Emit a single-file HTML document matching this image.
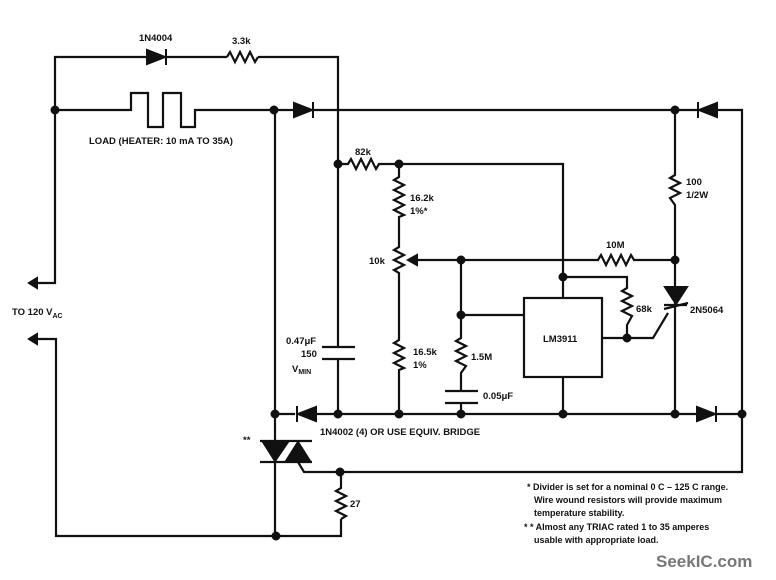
<!DOCTYPE html>
<html><head><meta charset="utf-8"><style>
html,body{margin:0;padding:0;background:#fff;}
svg{display:block}
text{font-family:"Liberation Sans",sans-serif;font-weight:bold;fill:#111;}
</style></head><body>
<svg width="776" height="580" viewBox="0 0 776 580" xmlns="http://www.w3.org/2000/svg">
<g stroke="#111" stroke-width="2.2" fill="none" stroke-linejoin="miter">
<polyline points="55,110 55,57 147,57"/>
<line x1="167" y1="57" x2="227" y2="57"/>
<polyline points="227,57 230,52 235,62 240,52 245,62 250,52 255,62 258,57"/>
<polyline points="258,57 338,57 338,164"/>
<polyline points="55,110 131,110 131,93 148,93 148,127 163,127 163,93 181,93 181,127 195,127 195,110 294,110"/>
<line x1="314" y1="110" x2="697" y2="110"/>
<polyline points="717,110 742,110 742,472 340,472 304,472 298,462"/>
<polyline points="55,110 55,283 34,283"/>
<polyline points="34,339 56,339 56,536 341,536 341,519"/>
<line x1="275" y1="110" x2="275" y2="536"/>
<line x1="275" y1="414" x2="295" y2="414"/>
<line x1="315" y1="414" x2="697" y2="414"/>
<line x1="717" y1="414" x2="742" y2="414"/>
<polyline points="338,164 348,164 351,159 356,169 361,159 366,169 371,159 376,169 379,164 563,164 563,298"/>
<polyline points="399,164 399,177 394,180 404,185 394,190 404,195 394,200 404,205 394,210 404,215 399,217 399,247 394,250 404,255 394,260 404,265 394,270 399,273 399,340 394,343 404,348 394,353 404,358 394,363 404,368 399,370 399,414"/>
<polyline points="414,260 598,260 601,255 606,265 611,255 616,265 621,255 626,265 631,255 634,260 675,260"/>
<polyline points="461,260 461,338 456,341 466,346 456,351 466,356 456,361 466,366 461,373 461,391"/>
<line x1="461" y1="403" x2="461" y2="414"/>
<line x1="445" y1="391" x2="478" y2="391"/>
<line x1="445" y1="403" x2="478" y2="403"/>
<line x1="461" y1="315" x2="524" y2="315"/>
<rect x="524" y="298" width="78" height="79"/>
<line x1="563" y1="377" x2="563" y2="414"/>
<polyline points="563,277 627,277 627,288 622,291 632,296 622,301 632,306 622,311 632,316 627,325 627,338"/>
<polyline points="602,338 653,338 668,313"/>
<line x1="664" y1="309" x2="688" y2="303"/>
<polyline points="675,110 675,175 670,178 680,183 670,188 680,193 670,198 675,205 675,414"/>
<line x1="664" y1="305" x2="687" y2="305"/>
<line x1="338" y1="164" x2="338" y2="347"/>
<line x1="338" y1="359" x2="338" y2="414"/>
<line x1="322" y1="347" x2="355" y2="347"/>
<line x1="322" y1="359" x2="355" y2="359"/>
<line x1="260" y1="441" x2="312" y2="441"/>
<line x1="260" y1="462" x2="312" y2="462"/>
<polyline points="341,472 341,488 336,491 346,496 336,501 346,506 336,511 346,516 341,519"/>
</g>
<g fill="#111" stroke="#111" stroke-width="2">
<polygon points="147,50 147,64 165,57"/><line x1="166" y1="49" x2="166" y2="65"/>
<polygon points="294,103 294,117 312,110"/><line x1="313" y1="102" x2="313" y2="118"/>
<polygon points="717,103 717,117 699,110"/><line x1="698" y1="102" x2="698" y2="118"/>
<polygon points="316,407 316,421 298,414"/><line x1="297" y1="406" x2="297" y2="422"/>
<polygon points="697,407 697,421 715,414"/><line x1="716" y1="406" x2="716" y2="422"/>
<polygon points="665,287 687,287 676,304"/>
<polygon points="263,442 288,442 275,461"/>
<polygon points="286,461 310,461 298,442"/>
<polygon points="29,283 37,278 37,288"/>
<polygon points="29,339 37,334 37,344"/>
<polygon points="408,260 417,255 417,265"/>
<circle cx="55" cy="110" r="3.5"/><circle cx="274" cy="110" r="3.5"/>
<circle cx="675" cy="110" r="3.5"/><circle cx="338" cy="164" r="3.5"/>
<circle cx="399" cy="164" r="3.5"/><circle cx="461" cy="260" r="3.5"/>
<circle cx="675" cy="260" r="3.5"/><circle cx="563" cy="277" r="3.5"/>
<circle cx="461" cy="315" r="3.5"/><circle cx="627" cy="338" r="3.5"/>
<circle cx="275" cy="414" r="3.5"/><circle cx="338" cy="414" r="3.5"/>
<circle cx="399" cy="414" r="3.5"/><circle cx="461" cy="414" r="3.5"/>
<circle cx="563" cy="414" r="3.5"/><circle cx="675" cy="414" r="3.5"/>
<circle cx="742" cy="414" r="3.5"/><circle cx="340" cy="472" r="3.5"/>
<circle cx="276" cy="536" r="3.5"/>
</g>
<g font-size="9.5">
<text x="139" y="41">1N4004</text>
<text x="232" y="44">3.3k</text>
<text x="89" y="144">LOAD (HEATER: 10 mA TO 35A)</text>
<text x="355" y="155">82k</text>
<text x="410" y="201">16.2k</text>
<text x="410" y="214">1%*</text>
<text x="369" y="264">10k</text>
<text x="413" y="355">16.5k</text>
<text x="413" y="368">1%</text>
<text x="471" y="360">1.5M</text>
<text x="483" y="399">0.05μF</text>
<text x="543" y="342">LM3911</text>
<text x="606" y="248">10M</text>
<text x="636" y="312">68k</text>
<text x="690" y="313">2N5064</text>
<text x="686" y="185">100</text>
<text x="686" y="198">1/2W</text>
<text x="286" y="344">0.47μF</text>
<text x="301" y="357">150</text>
<text x="292" y="372">V<tspan font-size="7" dy="2">MIN</tspan></text>
<text x="320" y="435">1N4002 (4) OR USE EQUIV. BRIDGE</text>
<text x="243" y="443">**</text>
<text x="350" y="507">27</text>
<text x="12" y="315">TO 120 V<tspan font-size="7" dy="3">AC</tspan></text>
</g>
<g font-size="9" font-weight="normal">
<text x="527" y="490">* Divider is set for a nominal 0 C – 125 C range.</text>
<text x="534" y="503">Wire wound resistors will provide maximum</text>
<text x="534" y="516">temperature stability.</text>
<text x="524" y="530">* * Almost any TRIAC rated 1 to 35 amperes</text>
<text x="534" y="543">usable with appropriate load.</text>
</g>
<text x="656" y="567" font-size="17" style="fill:#777">SeekIC.com</text>
</svg>
</body></html>
